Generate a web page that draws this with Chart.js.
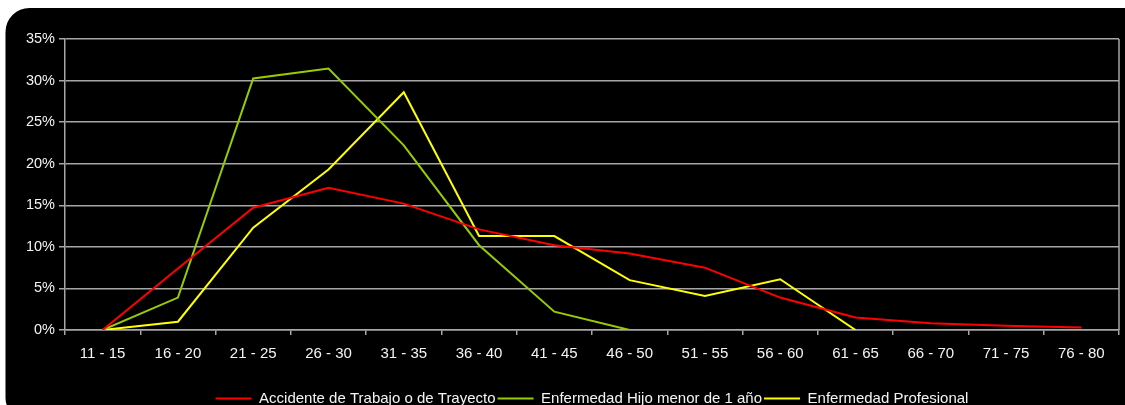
<!DOCTYPE html>
<html>
<head>
<meta charset="utf-8">
<style>
  html, body { margin: 0; padding: 0; background: #ffffff; }
  #wrap { width: 1125px; height: 405px; position: relative; }
</style>
<script src="https://cdn.jsdelivr.net/npm/chart.js@4/dist/chart.umd.min.js"></script>
</head>
<body>
<div id="wrap"><canvas id="c" width="1125" height="405"></canvas></div>
<script>
// Age brackets
const categories = ['11 - 15', '16 - 20', '21 - 25', '26 - 30', '31 - 35', '36 - 40', '41 - 45',
  '46 - 50', '51 - 55', '56 - 60', '61 - 65', '66 - 70', '71 - 75', '76 - 80'];

// Share of cases per age bracket (%)
const accidente = [0, 7.4, 14.7, 17.1, 15.2, 12.1, 10.2, 9.2, 7.5, 3.9, 1.5, 0.8, 0.5, 0.3];
const hijoMenor = [0, 3.9, 30.25, 31.45, 22.2, 10.2, 2.2, 0, 0, null, null, null, null, null];
const profesional = [0, 1.0, 12.3, 19.3, 28.6, 11.3, 11.3, 6.0, 4.1, 6.1, 0, null, null, null];

const seriesNames = ['Accidente de Trabajo o de Trayecto', 'Enfermedad Hijo menor de 1 año', 'Enfermedad Profesional'];
const seriesColors = ['#ff0000', '#99cc00', '#ffff00'];

const yTicks = [0, 5, 10, 15, 20, 25, 30, 35];

const gridColor = '#a6a6a6';
const textColor = '#f4f4f4';
const fontFamily = 'Liberation Sans, Arial, sans-serif';

// Black rounded panel behind the chart, plus a right-hand frame line
const panelPlugin = {
  id: 'panel',
  beforeDraw(chart) {
    const ctx = chart.ctx;
    ctx.save();
    ctx.fillStyle = '#000000';
    ctx.beginPath();
    ctx.roundRect(5.5, 8, 1130, 410, [24, 12, 12, 20]);
    ctx.fill();
    ctx.restore();
  },
  afterDatasetsDraw(chart) {
    const a = chart.chartArea;
    const ctx = chart.ctx;
    ctx.save();
    ctx.strokeStyle = gridColor;
    ctx.lineWidth = 1.5;
    ctx.beginPath();
    ctx.moveTo(a.right, a.top);
    ctx.lineTo(a.right, a.bottom);
    ctx.stroke();
    ctx.restore();
  }
};

new Chart(document.getElementById('c'), {
  type: 'line',
  data: {
    labels: categories,
    datasets: [accidente, hijoMenor, profesional].map((d, i) => ({
      label: seriesNames[i],
      data: d,
      borderColor: seriesColors[i],
      backgroundColor: seriesColors[i],
      borderWidth: 2,
      pointRadius: 0,
      tension: 0,
      spanGaps: false
    }))
  },
  options: {
    responsive: false,
    animation: false,
    devicePixelRatio: 1,
    layout: { padding: { left: 0, right: 6, top: 39, bottom: -11 } },
    plugins: {
      tooltip: { enabled: false },
      legend: {
        position: 'bottom',
        fullSize: false,
        labels: {
          color: textColor,
          font: { family: fontFamily, size: 15 },
          boxWidth: 36,
          boxHeight: 2,
          padding: 2,
          generateLabels(chart) {
            return chart.data.datasets.map((ds, i) => ({
              text: ds.label,
              fillStyle: ds.borderColor,
              strokeStyle: ds.borderColor,
              lineWidth: 0,
              fontColor: textColor,
              datasetIndex: i,
              hidden: false
            }));
          }
        }
      }
    },
    scales: {
      x: {
        offset: true,
        grid: {
          offset: true,
          drawOnChartArea: false,
          color: gridColor,
          lineWidth: 1.5,
          tickLength: 5
        },
        border: { color: gridColor, width: 1.5 },
        ticks: {
          color: textColor,
          font: { family: fontFamily, size: 15 },
          maxRotation: 0,
          autoSkip: false,
          padding: 10
        },
        afterFit(scale) { scale.height = 59; }
      },
      y: {
        min: 0,
        max: 35,
        afterBuildTicks(scale) { scale.ticks = yTicks.map(v => ({ value: v })); },
        grid: {
          color: gridColor,
          lineWidth: 1.5,
          tickLength: 6
        },
        border: { color: gridColor, width: 1.5 },
        ticks: {
          color: textColor,
          font: { family: fontFamily, size: 14.5 },
          padding: 4,
          callback: v => v + '%'
        },
        afterFit(scale) { scale.width = 65; }
      }
    }
  },
  plugins: [panelPlugin]
});
</script>
</body>
</html>
